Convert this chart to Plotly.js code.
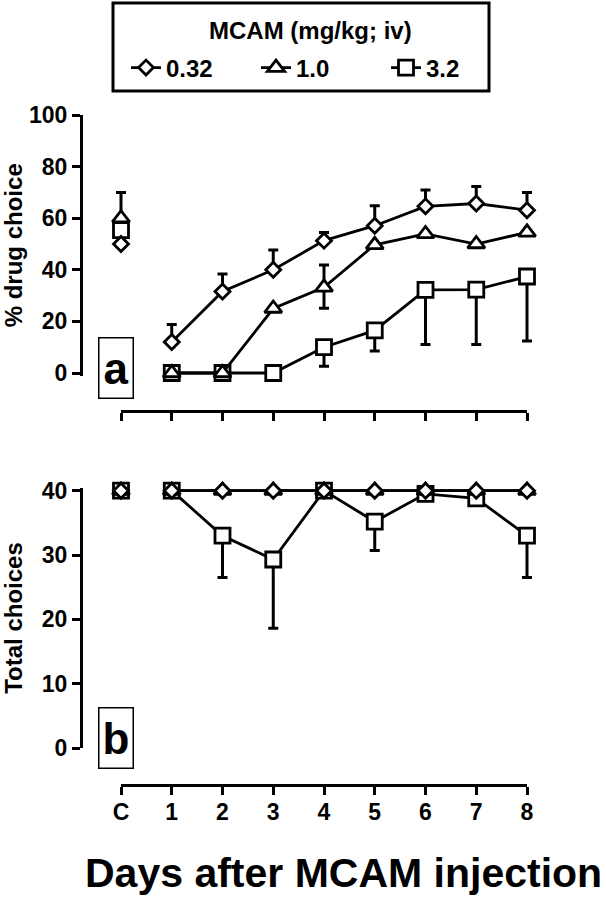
<!DOCTYPE html>
<html><head><meta charset="utf-8">
<script src="https://cdn.plot.ly/plotly-3.0.1.min.js"></script>
<style>html,body{margin:0;padding:0;background:#fff}#chart{width:606px;height:899px}</style>
</head><body><div id="chart"></div>
<script>
// ---- data ----
const days = ["C","1","2","3","4","5","6","7","8"];
// panel a: % drug choice
const choice032      = [50, 12, 31.6, 40, 51.3, 57.1, 64.6, 65.7, 63.1];
const choice032Up    = [0, 6.8, 6.8, 7.7, 3.2, 7.7, 6.3, 6.6, 6.9];
const choice032Down  = [0, 0, 0, 0, 0, 0, 0, 0, 0];
const choice10       = [60, 0, 0, 25, 33.2, 49.7, 53.9, 50, 54.5];
const choice10Up     = [10, 0, 0, 0, 8.7, 0, 0, 0, 0];
const choice10Down   = [0, 0, 0, 0, 8.1, 0, 0, 0, 0];
const choice32       = [55.4, 0, 0, 0, 10, 16.5, 32.2, 32.3, 37.4];
const choice32Up     = [0, 0, 0, 0, 0, 0, 0, 0, 0];
const choice32Down   = [0, 0, 0, 0, 7.4, 8, 21.1, 21.2, 25];
// panel b: total choices
const total032       = [40, 40, 40, 40, 40, 40, 40, 40, 40];
const total10        = [40, 40, 40, 40, 40, 40, 40, 40, 40];
const total32        = [40, 40, 33, 29.3, 40, 35.2, 39.5, 38.8, 33];
const total32Down    = [0, 0, 6.5, 10.7, 0, 4.5, 0, 0, 6.5];
const noErr          = [0, 0, 0, 0, 0, 0, 0, 0, 0];
const legendTitle    = "MCAM (mg/kg; iv)";

// ---- helpers ----
const W = 606, H = 899;
const px = v => v / W;
const py = v => 1 - v / H;
const dayPos = days.map((d, i) => i);
const FONT = "Liberation Sans, Arial, Helvetica, sans-serif";
const styles = {
  "0.32": {symbol: 'diamond', size: 11.5},
  "1.0":  {symbol: 'triangle-up', size: 15},
  "3.2":  {symbol: 'square', size: 15}
};

function series(name, y, up, down, xa, ya, legend) {
  const st = styles[name];
  const marker = {symbol: st.symbol, size: st.size, color: '#fff', line: {color: '#000', width: 2.8}};
  const err = (lo, hi) => ({type: 'data', symmetric: false, array: up.slice(lo, hi),
    arrayminus: down.slice(lo, hi), color: '#000', thickness: 3, width: 5, visible: true});
  return [
    {type: 'scatter', mode: 'markers', x: dayPos.slice(0, 1), y: y.slice(0, 1), error_y: err(0, 1),
     marker: marker, xaxis: xa, yaxis: ya, showlegend: false, cliponaxis: false, hoverinfo: 'skip'},
    {type: 'scatter', mode: 'lines+markers', name: name, x: dayPos.slice(1), y: y.slice(1), error_y: err(1, 9),
     marker: marker, line: {color: '#000', width: 2.8}, xaxis: xa, yaxis: ya,
     showlegend: legend, cliponaxis: false}
  ];
}
// carriers so the visible day axes (exact C..8 span) get drawn
function axisCarrier(xa, ya) {
  return {type: 'scatter', mode: 'markers', x: dayPos, y: dayPos.map(() => null),
    xaxis: xa, yaxis: ya, showlegend: false, hoverinfo: 'skip'};
}

const data = [].concat(
  series("3.2", choice32, choice32Up, choice32Down, 'x', 'y', true),
  series("1.0", choice10, choice10Up, choice10Down, 'x', 'y', true),
  series("0.32", choice032, choice032Up, choice032Down, 'x', 'y', true),
  series("3.2", total32, noErr, total32Down, 'x2', 'y2', false),
  series("1.0", total10, noErr, noErr, 'x2', 'y2', false),
  series("0.32", total032, noErr, noErr, 'x2', 'y2', false),
  [axisCarrier('x3', 'y'), axisCarrier('x4', 'y2')]
);

const tickFont = {family: FONT, size: 23, weight: 'bold', color: '#000'};
const titleFont = {family: FONT, size: 24, weight: 'bold', color: '#000'};
const axisCommon = {showline: true, linewidth: 3, linecolor: '#000', ticks: 'outside', ticklen: 8,
  tickwidth: 3, tickcolor: '#000', showgrid: false, zeroline: false, fixedrange: true, tickfont: tickFont};
const pad = 0.12, unit = (527 - 121) / 8;
const dataX = {visible: false, domain: [px(121 - pad * unit), px(527 + pad * unit)], range: [-pad, 8 + pad],
  showgrid: false, zeroline: false, fixedrange: true};

const layout = {
  width: W, height: H,
  margin: {l: 0, r: 0, t: 0, b: 0},
  paper_bgcolor: '#fff', plot_bgcolor: 'rgba(0,0,0,0)',
  font: {family: FONT, color: '#000'},
  showlegend: true,
  xaxis: Object.assign({}, dataX, {anchor: 'y'}),
  xaxis2: Object.assign({}, dataX, {anchor: 'y2'}),
  xaxis3: Object.assign({}, axisCommon, {domain: [px(121), px(527)], anchor: 'free', position: py(411),
    range: [0, 8], tickvals: dayPos, showticklabels: false}),
  xaxis4: Object.assign({}, axisCommon, {domain: [px(121), px(527)], anchor: 'free', position: py(785),
    range: [0, 8], tickvals: dayPos, ticktext: days, showticklabels: true, ticklabelstandoff: -3}),
  yaxis: Object.assign({}, axisCommon, {domain: [py(375.6), py(115)], anchor: 'free', position: px(81),
    range: [-1, 100], tickvals: [0, 20, 40, 60, 80, 100],
    title: {text: '% drug choice', font: titleFont, standoff: 12}}),
  yaxis2: Object.assign({}, axisCommon, {domain: [py(748), py(488.1)], anchor: 'free', position: px(81),
    range: [0, 40.4], tickvals: [0, 10, 20, 30, 40],
    title: {text: 'Total choices', font: titleFont, standoff: 12}}),
  legend: {orientation: 'h', x: px(126), y: py(68), xanchor: 'left', yanchor: 'middle',
    bgcolor: 'rgba(0,0,0,0)', borderwidth: 0, traceorder: 'reversed',
    font: {family: FONT, size: 24, weight: 'bold', color: '#000'},
    entrywidth: 85, entrywidthmode: 'pixels', itemwidth: 30},
  shapes: [
    {type: 'rect', xref: 'paper', yref: 'paper', x0: px(113), x1: px(489), y0: py(91), y1: py(3),
     line: {color: '#000', width: 3}, fillcolor: 'rgba(0,0,0,0)'}
  ],
  annotations: [
    {text: legendTitle, xref: 'paper', yref: 'paper', x: px(310), y: py(31), xanchor: 'center', yanchor: 'middle',
     showarrow: false, font: {family: FONT, size: 24, weight: 'bold', color: '#000'}},
    {text: 'a', xref: 'paper', yref: 'paper', x: px(115.5), y: py(368.5), xanchor: 'center', yanchor: 'middle',
     showarrow: false, font: {family: FONT, size: 44, weight: 'bold', color: '#000'},
     bordercolor: '#000', borderwidth: 1.5, borderpad: 0, width: 33, height: 59},
    {text: 'b', xref: 'paper', yref: 'paper', x: px(115.5), y: py(738), xanchor: 'center', yanchor: 'middle',
     showarrow: false, font: {family: FONT, size: 44, weight: 'bold', color: '#000'},
     bordercolor: '#000', borderwidth: 1.5, borderpad: 0, width: 33, height: 59},
    {text: 'Days after MCAM injection', xref: 'paper', yref: 'paper', x: px(343), y: py(873),
     xanchor: 'center', yanchor: 'middle', showarrow: false,
     font: {family: FONT, size: 41, weight: 'bold', color: '#000'}}
  ]
};

Plotly.newPlot('chart', data, layout, {displayModeBar: false, staticPlot: true});
</script>
</body></html>
